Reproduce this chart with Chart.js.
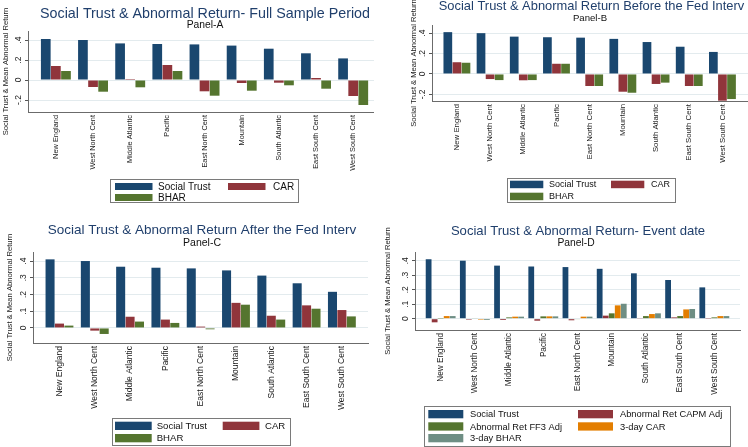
<!DOCTYPE html>
<html>
<head>
<meta charset="utf-8">
<script src="https://cdn.jsdelivr.net/npm/chart.js@4"></script>
<style>
  body { margin: 0; background: #fff; }
  #wrap { position: relative; width: 748px; height: 447px; overflow: hidden; }
  canvas { position: absolute; }
</style>
</head>
<body>
<div id="wrap">
  <canvas id="panelA" width="374" height="224" style="left:0;top:0"></canvas>
  <canvas id="panelB" width="374" height="224" style="left:374px;top:0"></canvas>
  <canvas id="panelC" width="374" height="223" style="left:0;top:224px"></canvas>
  <canvas id="panelD" width="374" height="223" style="left:374px;top:224px"></canvas>
</div>
<script>
const regions = ["New England", "West North Cent", "Middle Atlantic", "Pacific", "East North Cent",
  "Mountain", "South Atlantic", "East South Cent", "West South Cent"];

const socialTrust = [0.41, 0.40, 0.366, 0.36, 0.356, 0.344, 0.313, 0.267, 0.216];

// Panel A - full sample
const carFull = [0.14, -0.07, 0.01, 0.15, -0.113, -0.03, -0.027, 0.02, -0.16];
const bharFull = [0.09, -0.117, -0.073, 0.09, -0.157, -0.107, -0.053, -0.087, -0.25];

// Panel B - before the Fed intervention
const carBefore = [0.115, -0.05, -0.062, 0.1, -0.118, -0.174, -0.098, -0.118, -0.262];
const bharBefore = [0.11, -0.06, -0.06, 0.1, -0.118, -0.184, -0.085, -0.118, -0.246];

// Panel C - after the Fed intervention
const carAfter = [0.026, -0.016, 0.067, 0.05, 0.008, 0.15, 0.073, 0.135, 0.107];
const bharAfter = [0.014, -0.036, 0.038, 0.03, -0.008, 0.139, 0.05, 0.115, 0.069];

// Panel D - event date
const capmEvent = [-0.025, -0.007, -0.009, -0.014, -0.011, 0.021, 0.002, 0.009, 0.001];
const ff3Event = [0.001, 0.004, 0.009, 0.016, -0.004, 0.037, 0.018, 0.018, 0.009];
const car3Event = [0.018, -0.007, 0.014, 0.016, 0.014, 0.092, 0.032, 0.064, 0.018];
const bhar3Event = [0.018, -0.009, 0.014, 0.016, 0.014, 0.103, 0.037, 0.067, 0.018];

const yTicksAB = [-0.2, 0, 0.2, 0.4];
const yTicksCD = [0, 0.1, 0.2, 0.3, 0.4];

const navy = "#1a476f";
const maroon = "#90353b";
const forest = "#55752f";
const orange = "#e37e00";
const teal = "#6e8e84";

const fontFamily = '"Liberation Sans", Arial, sans-serif';
Chart.defaults.font.family = fontFamily;

function toPoints(vals) {
  return vals.map((v, i) => ({ x: i, y: v }));
}

function fmtTick(v) {
  if (v === 0) return "0";
  return (Math.round(v * 10) / 10).toString().replace("0.", ".");
}

// titles drawn at fixed spots like the stata export
const panelText = {
  id: "panelText",
  afterDraw(chart, args, o) {
    let ctx = chart.ctx;
    ctx.save();
    ctx.textAlign = "center";
    ctx.textBaseline = "middle";
    ctx.fillStyle = "#203f6c";
    ctx.font = o.titleSize + "px " + fontFamily;
    ctx.fillText(o.title, o.titleX, o.titleY);
    ctx.fillStyle = "#111";
    ctx.font = o.subSize + "px " + fontFamily;
    ctx.fillText(o.sub, o.subX, o.subY);
    ctx.restore();
  },
};

// boxed legend, two columns
const boxLegend = {
  id: "boxLegend",
  afterDraw(chart, args, o) {
    let ctx = chart.ctx;
    ctx.save();
    ctx.strokeStyle = "#7a7a7a";
    ctx.lineWidth = 1;
    ctx.strokeRect(Math.round(o.box[0]) + 0.5, Math.round(o.box[1]) + 0.5, Math.round(o.box[2]), Math.round(o.box[3]));
    ctx.font = o.font + "px " + fontFamily;
    ctx.textAlign = "left";
    ctx.textBaseline = "middle";
    chart.data.datasets.forEach((ds, i) => {
      let c = i % 2;
      let r = Math.floor(i / 2);
      ctx.fillStyle = ds.backgroundColor;
      ctx.fillRect(o.swatchX[c], o.rowY[r], o.swatchW, o.swatchH);
      ctx.fillStyle = "#111";
      ctx.fillText(ds.label, o.textX[c], o.rowY[r] + o.swatchH / 2 + 0.5);
    });
    ctx.restore();
  },
};

function makePanel(id, series, p) {
  let canvas = document.getElementById(id);
  let W = canvas.width;
  let H = canvas.height;
  let xH = 80;

  return new Chart(canvas, {
    type: "bar",
    data: {
      datasets: series.map((s) => ({
        label: s.label,
        data: toPoints(s.data),
        backgroundColor: s.color,
        categoryPercentage: p.catPct,
        barPercentage: 0.96,
      })),
    },
    options: {
      responsive: false,
      animation: false,
      devicePixelRatio: 1,
      layout: {
        padding: { left: 0, right: W - p.right, top: p.top, bottom: H - p.bottom - xH },
      },
      plugins: {
        legend: { display: false },
        tooltip: { enabled: false },
        panelText: p.text,
        boxLegend: p.legend,
      },
      scales: {
        x: {
          type: "linear",
          min: -0.75,
          max: p.xMax,
          offset: false,
          afterBuildTicks: (s) => {
            s.ticks = regions.map((r, i) => ({ value: i }));
          },
          afterFit: (s) => {
            s.height = xH;
          },
          grid: { display: true, offset: false, drawOnChartArea: false, drawTicks: false },
          border: { display: true, color: "#6b6b6b", width: 1 },
          ticks: {
            autoSkip: false,
            minRotation: 90,
            maxRotation: 90,
            padding: 3,
            color: "#1a1a1a",
            font: { size: p.xFont },
            callback: (v) => regions[v],
          },
        },
        y: {
          min: p.yMin,
          max: p.yMax,
          afterBuildTicks: (s) => {
            s.ticks = p.yTicks.map((v) => ({ value: v }));
          },
          afterFit: (s) => {
            s.width = p.left;
          },
          grid: { color: "#e3ebee", tickColor: "#555", tickLength: 3, drawTicks: true },
          border: { display: true, color: "#6b6b6b", width: 1 },
          ticks: {
            minRotation: 90,
            maxRotation: 90,
            crossAlign: "center",
            padding: p.yPad,
            color: "#1a1a1a",
            font: { size: 8.5 },
            callback: fmtTick,
          },
          title: {
            display: true,
            text: "Social Trust & Mean Abnormal Return",
            color: "#1a1a1a",
            font: { size: 7.6 },
            padding: { top: p.yTitleX - 4.56, bottom: 0 },
          },
        },
      },
    },
    plugins: [panelText, boxLegend],
  });
}

makePanel(
  "panelA",
  [
    { label: "Social Trust", data: socialTrust, color: navy },
    { label: "CAR", data: carFull, color: maroon },
    { label: "BHAR", data: bharFull, color: forest },
  ],
  {
    left: 28, right: 374, top: 31, bottom: 112,
    yMin: -0.32, yMax: 0.49, yTicks: yTicksAB, yPad: 1.5, yTitleX: 6,
    xMax: 8.56, catPct: 0.816, xFont: 7.4,
    text: { title: "Social Trust & Abnormal Return- Full Sample Period", titleX: 205, titleY: 14, titleSize: 14.3,
      sub: "Panel-A", subX: 205, subY: 25, subSize: 10.3 },
    legend: { box: [110, 179, 188, 23], swatchX: [115, 228], textX: [158, 273], swatchW: 37.5, swatchH: 7,
      rowY: [183, 194], font: 10 },
  }
);

makePanel(
  "panelB",
  [
    { label: "Social Trust", data: socialTrust, color: navy },
    { label: "CAR", data: carBefore, color: maroon },
    { label: "BHAR", data: bharBefore, color: forest },
  ],
  {
    left: 58, right: 374, top: 25, bottom: 101,
    yMin: -0.265, yMax: 0.48, yTicks: yTicksAB, yPad: 1.5, yTitleX: 40,
    xMax: 8.77, catPct: 0.82, xFont: 7.8,
    text: { title: "Social Trust & Abnormal Return Before the Fed Interv", titleX: 217.5, titleY: 6.5, titleSize: 12.9,
      sub: "Panel-B", subX: 216, subY: 18.5, subSize: 9.6 },
    legend: { box: [133, 178, 168, 24], swatchX: [136, 237], textX: [175, 277], swatchW: 33.3, swatchH: 7.5,
      rowY: [180.7, 192.7], font: 9 },
  }
);

makePanel(
  "panelC",
  [
    { label: "Social Trust", data: socialTrust, color: navy },
    { label: "CAR", data: carAfter, color: maroon },
    { label: "BHAR", data: bharAfter, color: forest },
  ],
  {
    left: 33, right: 368, top: 28, bottom: 119,
    yMin: -0.09, yMax: 0.454, yTicks: yTicksCD, yPad: 3, yTitleX: 10,
    xMax: 8.74, catPct: 0.8, xFont: 8.5,
    text: { title: "Social Trust & Abnormal Return After the Fed Interv", titleX: 202, titleY: 6.5, titleSize: 13.5,
      sub: "Panel-C", subX: 202, subY: 19, subSize: 10.5 },
    legend: { box: [112, 194, 178, 27], swatchX: [115, 222.7], textX: [156.7, 265], swatchW: 36.7, swatchH: 8.3,
      rowY: [197.7, 210], font: 9.6 },
  }
);

makePanel(
  "panelD",
  [
    { label: "Social Trust", data: socialTrust, color: navy },
    { label: "Abnormal Ret CAPM Adj", data: capmEvent, color: maroon },
    { label: "Abnormal Ret FF3 Adj", data: ff3Event, color: forest },
    { label: "3-day CAR", data: car3Event, color: orange },
    { label: "3-day BHAR", data: bhar3Event, color: teal },
  ],
  {
    left: 41, right: 366, top: 28, bottom: 106,
    yMin: -0.078, yMax: 0.46, yTicks: yTicksCD, yPad: 3, yTitleX: 14,
    xMax: 8.75, catPct: 0.88, xFont: 8.2,
    text: { title: "Social Trust & Abnormal Return- Event date", titleX: 204, titleY: 7, titleSize: 13.1,
      sub: "Panel-D", subX: 202, subY: 19, subSize: 10.3 },
    legend: { box: [50, 182, 306, 40], swatchX: [54.3, 204], textX: [96, 246], swatchW: 35, swatchH: 8.3,
      rowY: [186, 198.3, 210], font: 9.3 },
  }
);
</script>
</body>
</html>
